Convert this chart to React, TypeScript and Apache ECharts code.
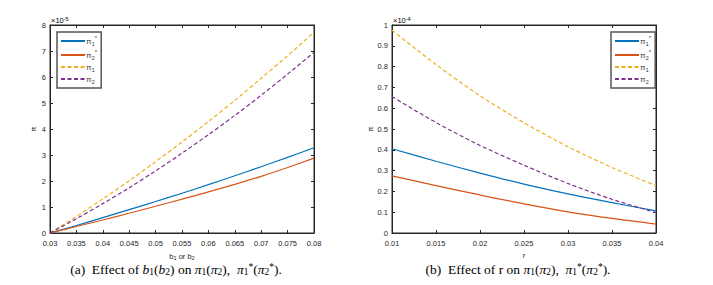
import React, { useEffect, useRef } from 'react';
import * as echarts from 'echarts';

// ---- Data (a): effect of b1 (b2); values in units of 1e-5
const bValues = [0.03, 0.035, 0.04, 0.045, 0.05, 0.055, 0.06, 0.065, 0.07, 0.075, 0.08];
const piStar1B = [0, 0.29, 0.59, 0.9, 1.21, 1.53, 1.86, 2.2, 2.55, 2.91, 3.28];
const piStar2B = [0, 0.25, 0.5, 0.76, 1.03, 1.3, 1.58, 1.87, 2.18, 2.52, 2.88];
const pi1B = [0, 0.64, 1.31, 2.01, 2.74, 3.5, 4.29, 5.1, 5.95, 6.82, 7.72];
const pi2B = [0, 0.55, 1.13, 1.74, 2.39, 3.07, 3.78, 4.52, 5.3, 6.11, 6.95];
const expA = '-5';

// ---- Data (b): effect of r; values in units of 1e-4
const rValues = [0.01, 0.015, 0.02, 0.025, 0.03, 0.035, 0.04];
const piStar1R = [0.405, 0.345, 0.288, 0.235, 0.188, 0.146, 0.106];
const piStar2R = [0.275, 0.228, 0.183, 0.14, 0.102, 0.07, 0.043];
const pi1R = [0.975, 0.81, 0.66, 0.53, 0.415, 0.315, 0.228];
const pi2R = [0.656, 0.531, 0.421, 0.326, 0.238, 0.162, 0.098];
const expB = '-4';

const AX = '#262626';
const TXT = '#262626';
const SANS = 'Liberation Sans, Arial, Helvetica, sans-serif';
const SERIF = 'Liberation Serif, Times New Roman, serif';
const BLUE = '#0072BD';
const RED = '#D95319';
const YELLOW = '#EDB120';
const PURPLE = '#7E2F8E';

const fmt = (v: number) => String(Number(v.toFixed(4)));

const zip = (xs: number[], ys: number[]) => xs.map((x, i) => [x, ys[i]]);

function xAxes(gridIndex: number, min: number, max: number, interval: number, name: string) {
  const common = {
    type: 'value', gridIndex, min, max, interval,
    axisLine: { show: true, onZero: false, lineStyle: { color: AX, width: 1 } },
    axisTick: { show: true, inside: true, length: 3, lineStyle: { color: AX } },
    splitLine: { show: false },
  };
  return [
    {
      ...common, position: 'bottom', name, nameLocation: 'middle', nameGap: 18,
      nameTextStyle: {
        color: TXT, fontFamily: SANS, fontSize: 7.5,
        rich: { s: { fontSize: 5.5, color: TXT, fontFamily: SANS, verticalAlign: 'bottom', padding: [4, 0, 0, 0] } },
      },
      axisLabel: { fontSize: 7.5, color: TXT, fontFamily: SANS, margin: 6, formatter: fmt },
    },
    { ...common, position: 'top', axisLabel: { show: false } },
  ];
}

function yAxes(gridIndex: number, min: number, max: number, interval: number) {
  const common = {
    type: 'value', gridIndex, min, max, interval,
    axisLine: { show: true, onZero: false, lineStyle: { color: AX, width: 1 } },
    axisTick: { show: true, inside: true, length: 3, lineStyle: { color: AX } },
    splitLine: { show: false },
  };
  return [
    {
      ...common, position: 'left', name: 'π', nameLocation: 'middle', nameGap: 13, nameRotate: 90,
      nameTextStyle: { color: TXT, fontFamily: SANS, fontSize: 7 },
      axisLabel: { fontSize: 7.5, color: TXT, fontFamily: SANS, margin: 4, formatter: fmt },
    },
    { ...common, position: 'right', axisLabel: { show: false } },
  ];
}

function line(name: string, color: string, dashed: boolean, data: number[][], xi: number, yi: number) {
  return {
    type: 'line', name, data, xAxisIndex: xi, yAxisIndex: yi,
    showSymbol: false, symbol: 'none', smooth: 0.3,
    lineStyle: { color, width: 1.2, type: dashed ? [4, 2.5] : 'solid' },
    itemStyle: { color },
    silent: true,
  };
}

const legendFormatter = (name: string) => {
  const star = name.includes('s');
  const idx = name.includes('1') ? '1' : '2';
  return star ? `{p|π}{sub|${idx}}{sup|*}` : `{p|π}{sub|${idx}}`;
};

const legendRich = {
  p: { fontSize: 8, color: '#444', fontFamily: SANS, lineHeight: 12 },
  sub: { fontSize: 6, color: '#444', fontFamily: SANS, verticalAlign: 'bottom', lineHeight: 12 },
  sup: { fontSize: 6, color: '#444', fontFamily: SANS, verticalAlign: 'top', lineHeight: 12 },
};

function legend(names: string[], left: number, top: number) {
  return {
    data: names, left, top, orient: 'vertical', itemWidth: 24, itemHeight: 10, itemGap: 2,
    padding: [3, 4, 3, 3], borderColor: '#555', borderWidth: 1.5, backgroundColor: '#fff',
    selectedMode: false,
    itemStyle: { opacity: 0 },
    formatter: legendFormatter,
    textStyle: { rich: legendRich, padding: [0, 0, 0, -4] },
  };
}

const capRich = {
  n: { fontSize: 13.5, fontFamily: SERIF, color: '#000' },
  i: { fontSize: 13.5, fontFamily: SERIF, fontStyle: 'italic', color: '#000' },
  sb: { fontSize: 9.5, fontFamily: SERIF, color: '#000', verticalAlign: 'bottom', padding: [5, 0, 0, 0] },
  sp: { fontSize: 9.5, fontFamily: SERIF, color: '#000', verticalAlign: 'top' },
};

const captionA = '{n|(a)  Effect of }{i|b}{sb|1}{n|(}{i|b}{sb|2}{n|) on }{i|π}{sb|1}{n|(}{i|π}{sb|2}{n|),  }{i|π}{sb|1}{sp|*}{n|(}{i|π}{sb|2}{sp|*}{n|).}';
const captionB = '{n|(b)  Effect of r on }{i|π}{sb|1}{n|(}{i|π}{sb|2}{n|),  }{i|π}{sb|1}{sp|*}{n|(}{i|π}{sb|2}{sp|*}{n|).}';

const multRich = {
  m: { fontSize: 7.5, fontFamily: SANS, color: TXT },
  e: { fontSize: 5.5, fontFamily: SANS, color: TXT, verticalAlign: 'top' },
};

export default function App() {
  const ref = useRef<HTMLDivElement>(null);
  useEffect(() => {
    const chart = echarts.init(ref.current!, null, { renderer: 'svg' });
    const option: any = {
      animation: false,
      backgroundColor: '#fff',
      grid: [
        { left: 50, top: 25, width: 264, height: 208, show: true, borderColor: AX, borderWidth: 1, containLabel: false },
        { left: 392, top: 25, width: 264, height: 208, show: true, borderColor: AX, borderWidth: 1, containLabel: false },
      ],
      xAxis: [
        ...xAxes(0, 0.03, 0.08, 0.005, '{m|b}{s|1}{m| or b}{s|2}'),
        ...xAxes(1, 0.01, 0.04, 0.005, 'r'),
      ],
      yAxis: [
        ...yAxes(0, 0, 8, 1),
        ...yAxes(1, 0, 1, 0.1),
      ],
      legend: [
        legend(['pi1s-a', 'pi2s-a', 'pi1-a', 'pi2-a'], 57, 32),
        legend(['pi1s-b', 'pi2s-b', 'pi1-b', 'pi2-b'], 611, 32),
      ],
      series: [
        line('pi1s-a', BLUE, false, zip(bValues, piStar1B), 0, 0),
        line('pi2s-a', RED, false, zip(bValues, piStar2B), 0, 0),
        line('pi1-a', YELLOW, true, zip(bValues, pi1B), 0, 0),
        line('pi2-a', PURPLE, true, zip(bValues, pi2B), 0, 0),
        line('pi1s-b', BLUE, false, zip(rValues, piStar1R), 2, 2),
        line('pi2s-b', RED, false, zip(rValues, piStar2R), 2, 2),
        line('pi1-b', YELLOW, true, zip(rValues, pi1R), 2, 2),
        line('pi2-b', PURPLE, true, zip(rValues, pi2R), 2, 2),
      ],
      graphic: [
        { type: 'text', x: 51, y: 20, style: { text: `{m|×10}{e|${expA}}`, rich: multRich, verticalAlign: 'middle' } },
        { type: 'text', x: 393, y: 20, style: { text: `{m|×10}{e|${expB}}`, rich: multRich, verticalAlign: 'middle' } },
        { type: 'text', x: 176, y: 269, style: { text: captionA, rich: capRich, align: 'center', verticalAlign: 'middle' } },
        { type: 'text', x: 518, y: 269, style: { text: captionB, rich: capRich, align: 'center', verticalAlign: 'middle' } },
      ],
    };
    chart.setOption(option);
    return () => chart.dispose();
  }, []);
  return (
    <div
      ref={ref}
      style={{ position: 'absolute', left: 0, top: 0, width: 713, height: 285, background: '#fff' }}
    />
  );
}
